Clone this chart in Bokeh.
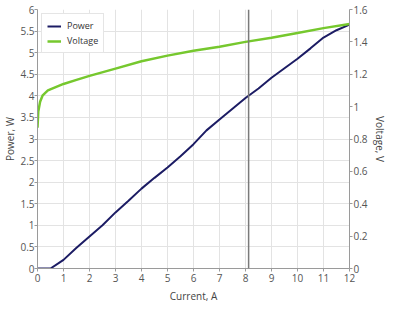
from bokeh.plotting import figure
from bokeh.models import (LinearAxis, Range1d, FixedTicker, NumeralTickFormatter,
                          Span, Legend, LegendItem, ColumnDataSource)
from bokeh.embed import file_html
from bokeh.resources import INLINE

# --- data ---
current_power = [0, 0.5, 1, 1.5, 2, 2.5, 3, 3.5, 4, 4.5, 5, 5.5, 6, 6.5, 7, 7.5, 8,
                 8.5, 9, 9.5, 10, 10.5, 11, 11.5, 12]
power_w = [0, 0, 0.2, 0.48, 0.74, 1.0, 1.3, 1.57, 1.85, 2.1, 2.34, 2.6, 2.88, 3.2,
           3.45, 3.7, 3.95, 4.17, 4.42, 4.64, 4.86, 5.1, 5.35, 5.52, 5.65]
current_voltage = [0, 0.03, 0.1, 0.2, 0.4, 0.7, 1, 1.5, 2, 3, 4, 5, 6, 7, 8, 9,
                   10, 11, 12]
voltage_v = [0.87, 0.97, 1.03, 1.07, 1.10, 1.12, 1.14, 1.165, 1.19, 1.235, 1.28,
             1.315, 1.345, 1.37, 1.40, 1.425, 1.455, 1.485, 1.51]
cursor_current = 8.12
x_ticks = list(range(0, 13))
power_ticks = [0, 0.5, 1, 1.5, 2, 2.5, 3, 3.5, 4, 4.5, 5, 5.5, 6]
voltage_ticks = [0, 0.2, 0.4, 0.6, 0.8, 1.0, 1.2, 1.4, 1.6]

FONT = "Open Sans"
TICK_COLOR = "#555555"
AXIS_COLOR = "#9a9a9a"

p = figure(width=395, height=310, output_backend="svg", toolbar_location=None,
           x_range=Range1d(0, 12), y_range=Range1d(0, 6),
           min_border_left=37, min_border_right=46, min_border_top=9,
           min_border_bottom=42, outline_line_color=None)
p.extra_y_ranges = {"v": Range1d(0, 1.6)}

p.xaxis.axis_label = "Current, A"
p.yaxis.axis_label = "Power, W"
p.xaxis.ticker = FixedTicker(ticks=x_ticks)
p.yaxis.ticker = FixedTicker(ticks=power_ticks)
p.yaxis.formatter = NumeralTickFormatter(format="0.[0]")

raxis = LinearAxis(y_range_name="v", axis_label="Voltage, V",
                   ticker=FixedTicker(ticks=voltage_ticks),
                   formatter=NumeralTickFormatter(format="0.[0]"))
p.add_layout(raxis, "right")

for ax in [p.xaxis[0], p.yaxis[0], raxis]:
    ax.axis_line_color = AXIS_COLOR
    ax.major_tick_line_color = AXIS_COLOR
    ax.minor_tick_line_color = None
    ax.major_tick_out = 3
    ax.major_tick_in = 0
    ax.major_label_text_font = FONT
    ax.major_label_text_font_size = "10px"
    ax.major_label_text_color = TICK_COLOR
    ax.axis_label_text_font = FONT
    ax.axis_label_text_font_size = "10px"
    ax.axis_label_text_font_style = "normal"
    ax.axis_label_text_color = "#444444"
    ax.major_label_standoff = 1
    ax.axis_label_standoff = 2

p.yaxis[0].axis_label_standoff = 0
p.yaxis[0].major_label_standoff = 0
p.xaxis[0].major_label_standoff = 2
p.xaxis[0].axis_label_standoff = 4

p.xgrid.grid_line_color = "#e3e3e3"
p.ygrid.grid_line_color = "#e3e3e3"

src_p = ColumnDataSource(dict(x=current_power, y=power_w))
src_v = ColumnDataSource(dict(x=current_voltage, y=voltage_v))
rp = p.line("x", "y", source=src_p, line_color="#1c1c64", line_width=2)
rv = p.line("x", "y", source=src_v, y_range_name="v", line_color="#76c82e", line_width=2.5)

cursor = Span(location=cursor_current, dimension="height", line_color="#7a7a7a",
              line_width=1.5)
p.add_layout(cursor)

legend = Legend(items=[LegendItem(label="Power", renderers=[rp]),
                       LegendItem(label="Voltage", renderers=[rv])],
                location="top_left", label_text_font=FONT, label_text_font_size="9px",
                label_text_color="#333333", border_line_color="#cccccc",
                background_fill_alpha=1.0, glyph_width=14, glyph_height=10,
                label_height=10, spacing=2, padding=5, margin=4,
                label_standoff=6)
p.add_layout(legend)

open("out.html", "w").write(file_html(p, INLINE))
